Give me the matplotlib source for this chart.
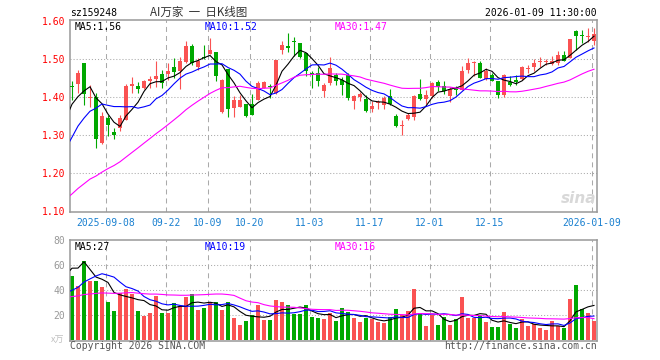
import numpy as np
import matplotlib
matplotlib.use('Agg')
import matplotlib.pyplot as plt
from matplotlib.patches import Rectangle

plt.rcParams['lines.scale_dashes'] = False

# ---------------- data ----------------
title_code = "sz159248"
title_name = "AI万家  一  日K线图"
timestamp = "2026-01-09 11:30:00"

tick_idx = [6, 16, 23, 30, 40, 50, 60, 70, 87]
tick_labels = ['2025-09-08', '09-22', '10-09', '10-20', '11-03', '11-17',
               '12-01', '12-15', '2026-01-09']

opens = [1.430, 1.435, 1.490, 1.399, 1.400, 1.281, 1.346, 1.309, 1.318, 1.341,
         1.431, 1.431, 1.425, 1.442, 1.448, 1.461, 1.461, 1.479, 1.468, 1.493,
         1.536, 1.479, 1.506, 1.515, 1.518, 1.361, 1.475, 1.372, 1.374, 1.382,
         1.382, 1.394, 1.425, 1.430, 1.411, 1.525, 1.534, 1.547, 1.543, 1.517,
         1.465, 1.464, 1.417, 1.438, 1.458, 1.446, 1.458, 1.389, 1.400, 1.396,
         1.368, 1.384, 1.379, 1.403, 1.352, 1.325, 1.344, 1.347, 1.409, 1.396,
         1.403, 1.440, 1.429, 1.404, 1.424, 1.420, 1.473, 1.489, 1.490, 1.448,
         1.458, 1.442, 1.405, 1.440, 1.446, 1.449, 1.474, 1.479, 1.494, 1.492,
         1.488, 1.490, 1.511, 1.504, 1.574, 1.564, 1.559, 1.548]
highs = [1.442, 1.473, 1.490, 1.433, 1.411, 1.361, 1.354, 1.319, 1.354, 1.436,
         1.453, 1.439, 1.446, 1.455, 1.495, 1.473, 1.490, 1.503, 1.505, 1.549,
         1.540, 1.503, 1.537, 1.556, 1.518, 1.448, 1.475, 1.403, 1.405, 1.382,
         1.409, 1.444, 1.444, 1.434, 1.499, 1.547, 1.568, 1.558, 1.543, 1.517,
         1.468, 1.479, 1.437, 1.505, 1.464, 1.454, 1.464, 1.407, 1.414, 1.407,
         1.389, 1.393, 1.403, 1.423, 1.355, 1.341, 1.358, 1.405, 1.448, 1.418,
         1.440, 1.446, 1.442, 1.426, 1.429, 1.482, 1.503, 1.496, 1.496, 1.478,
         1.464, 1.442, 1.461, 1.455, 1.459, 1.482, 1.486, 1.501, 1.505, 1.501,
         1.508, 1.521, 1.521, 1.554, 1.576, 1.578, 1.582, 1.582]
lows = [1.394, 1.411, 1.379, 1.374, 1.267, 1.277, 1.297, 1.291, 1.311, 1.341,
        1.411, 1.411, 1.423, 1.424, 1.426, 1.425, 1.446, 1.451, 1.423, 1.490,
        1.486, 1.473, 1.502, 1.515, 1.442, 1.360, 1.347, 1.347, 1.374, 1.347,
        1.354, 1.394, 1.425, 1.399, 1.409, 1.514, 1.518, 1.508, 1.503, 1.455,
        1.424, 1.429, 1.400, 1.433, 1.433, 1.405, 1.394, 1.368, 1.389, 1.361,
        1.361, 1.370, 1.370, 1.381, 1.321, 1.300, 1.341, 1.341, 1.394, 1.382,
        1.397, 1.417, 1.409, 1.387, 1.405, 1.420, 1.465, 1.455, 1.451, 1.446,
        1.442, 1.398, 1.402, 1.429, 1.433, 1.446, 1.465, 1.470, 1.479, 1.486,
        1.486, 1.486, 1.495, 1.504, 1.525, 1.543, 1.545, 1.538]
closes = [1.428, 1.464, 1.409, 1.401, 1.291, 1.350, 1.328, 1.302, 1.346, 1.429,
          1.436, 1.422, 1.444, 1.448, 1.455, 1.438, 1.470, 1.467, 1.495, 1.536,
          1.490, 1.496, 1.504, 1.525, 1.455, 1.446, 1.370, 1.394, 1.394, 1.350,
          1.354, 1.438, 1.440, 1.428, 1.499, 1.538, 1.531, 1.545, 1.505, 1.468,
          1.460, 1.444, 1.433, 1.477, 1.444, 1.432, 1.398, 1.403, 1.409, 1.365,
          1.378, 1.386, 1.398, 1.383, 1.324, 1.327, 1.354, 1.403, 1.396, 1.405,
          1.438, 1.426, 1.416, 1.422, 1.420, 1.468, 1.490, 1.491, 1.451, 1.468,
          1.442, 1.407, 1.458, 1.433, 1.439, 1.479, 1.476, 1.490, 1.496, 1.494,
          1.496, 1.512, 1.496, 1.554, 1.561, 1.562, 1.561, 1.566]
volumes = [51.4, 43.4, 63.4, 47.4, 47.4, 42.6, 30.6, 23.4, 37.8, 41.0,
           37.0, 23.4, 19.7, 21.8, 35.4, 21.8, 21.8, 29.6, 27.4, 34.6,
           37.0, 24.2, 25.8, 30.6, 30.6, 24.2, 30.6, 17.8, 12.2, 15.4,
           20.2, 28.2, 16.2, 16.2, 32.2, 30.6, 28.2, 21.0, 21.0, 28.2,
           18.6, 17.8, 17.0, 21.8, 15.4, 25.8, 22.6, 17.8, 14.6, 17.8,
           17.0, 14.6, 13.8, 18.6, 25.0, 20.2, 23.4, 41.0, 21.8, 11.4,
           20.2, 12.2, 18.6, 12.2, 17.0, 34.6, 17.8, 17.8, 19.4, 14.6,
           10.6, 10.6, 22.6, 13.0, 9.8, 17.0, 11.4, 13.0, 9.8, 8.2,
           15.4, 11.4, 9.8, 33.0, 44.2, 25.0, 21.8, 15.4]

# closes / volumes of the 30 sessions before the visible window (for the MAs)
pre_closes = [1.03, 1.03, 1.04, 1.03, 1.05, 1.04, 1.05, 1.06, 1.05, 1.06,
              1.07, 1.06, 1.07, 1.08, 1.08, 1.09, 1.10, 1.09, 1.11, 1.12,
              1.14, 1.17, 1.20, 1.22, 1.21, 1.24, 1.364, 1.334, 1.346, 1.437]
pre_volumes = [32, 28, 30, 35, 33, 31, 36, 29, 34, 32,
               30, 38, 33, 31, 35, 30, 34, 32, 33, 35,
               31, 20, 21, 22, 24, 24.6, 43, 38, 78, 78]

ma_price_labels = ["1.56", "1.52", "1.47"]
ma_vol_labels = ["27", "19", "16"]

# ---------------- helpers ----------------
W, H = 660, 360
RED = '#fa5252'
GREEN = '#00a800'
GRID = '#aaaaaa'
FRAME = '#999999'
MONO = 'DejaVu Sans Mono'


def ma(pre, vals, n):
    full = np.array(list(pre) + list(vals), dtype=float)
    npre = len(pre)
    xs, ys = [], []
    for j in range(npre - 1, len(full)):
        if j - n + 1 < 0:
            continue
        xs.append(j - npre)
        ys.append(full[j - n + 1:j + 1].mean())
    return np.array(xs), np.array(ys)


def axes_rect(left, top, right, bottom):
    return [left / W, 1 - bottom / H, (right - left) / W, (bottom - top) / H]


fig = plt.figure(figsize=(W / 100, H / 100), dpi=100)
fig.patch.set_facecolor('white')

n = len(closes)
xlim = (-1 / 3, 87.5)
ax = fig.add_axes(axes_rect(70, 20, 597, 211.5))
axv = fig.add_axes(axes_rect(70, 240.3, 597, 340.5))

p_top = 1.60 + 1.3 / 380
p_bot = 1.60 - (211.5 - 21.3) / 380
ax.set_ylim(p_bot, p_top)
ax.set_xlim(*xlim)
axv.set_xlim(*xlim)
axv.set_ylim(-0.16, 80.0)

for a in (ax, axv):
    for s in a.spines.values():
        s.set_color(FRAME)
        s.set_linewidth(1.1)
    a.set_facecolor('white')

# gridlines
grid_x = [t - 1 / 3 for t in tick_idx]
for a in (ax, axv):
    for gx in grid_x:
        a.axvline(gx, color=GRID, lw=0.75, dashes=(3.6, 2.9), zorder=0)
for lv in [1.20, 1.30, 1.40, 1.50]:
    ax.axhline(lv, color=GRID, lw=0.75, dashes=(0.75, 1.45), zorder=0)
for lv in [20, 40, 60]:
    axv.axhline(lv, color=GRID, lw=0.75, dashes=(0.75, 1.45), zorder=0)

# candles
bw = 0.8
min_h = 0.1 / 38
for i in range(n):
    o, h, l, c = opens[i], highs[i], lows[i], closes[i]
    col = RED if c >= o else GREEN
    ax.vlines(i, l, h, color=col, lw=0.8, zorder=2)
    bot = min(o, c)
    hh = max(abs(c - o), min_h)
    ax.add_patch(Rectangle((i - bw / 2, bot), bw, hh, facecolor=col,
                           edgecolor='none', zorder=3))
    axv.add_patch(Rectangle((i - bw / 2, 0), bw, volumes[i], facecolor=col,
                            edgecolor='none', zorder=2))

# moving averages
for per, col in [(5, 'black'), (10, '#0000ff'), (30, '#ff00ff')]:
    xs, ys = ma(pre_closes, closes, per)
    ax.plot(xs, ys, color=col, lw=0.8, zorder=4)
    xs, ys = ma(pre_volumes, volumes, per)
    axv.plot(xs, ys, color=col, lw=0.8, zorder=4)

# ticks
ax.set_yticks([1.10, 1.20, 1.30, 1.40, 1.50, 1.60])
ax.set_yticklabels(['1.10', '1.20', '1.30', '1.40', '1.50', '1.60'])
ax.tick_params(axis='y', length=0, pad=3.2, labelcolor='#ff0000', labelsize=7)
ax.set_xticks(grid_x)
ax.set_xticklabels(tick_labels)
ax.tick_params(axis='x', length=0, pad=4.5, labelcolor='#1a80d0', labelsize=7)
for t in ax.get_xticklabels() + ax.get_yticklabels():
    t.set_fontfamily(MONO)

axv.set_yticks([20, 40, 60, 80])
axv.set_yticklabels(['20', '40', '60', '80'])
axv.tick_params(axis='y', length=0, pad=3.2, labelcolor='#999999', labelsize=7)
axv.set_xticks([])
for t in axv.get_yticklabels():
    t.set_fontfamily(MONO)


def ftext(x, y, s, **kw):
    kw.setdefault('family', MONO)
    kw.setdefault('fontsize', 7)
    kw.setdefault('va', 'center')
    fig.text(x / W, 1 - y / H, s, **kw)


# header
ftext(70, 13, title_code, color='black')
ftext(150, 12.5, title_name, color='#333333', family=['Noto Sans CJK SC', 'DejaVu Sans'],
      fontsize=8.3)
ftext(597, 13, timestamp, color='black', ha='right')

# MA labels
ftext(74.5, 27, "MA5:" + ma_price_labels[0], color='black')
ftext(204.5, 27, "MA10:" + ma_price_labels[1], color='#0000ff')
ftext(334.5, 27, "MA30:" + ma_price_labels[2], color='#ff00ff')
ftext(74.5, 246.5, "MA5:" + ma_vol_labels[0], color='black')
ftext(204.5, 246.5, "MA10:" + ma_vol_labels[1], color='#0000ff')
ftext(334.5, 246.5, "MA30:" + ma_vol_labels[2], color='#ff00ff')

# footer
ftext(64, 340.5, "x万", color='#c0c0c0', ha='right',
      family=['Noto Sans CJK SC', 'DejaVu Sans'], fontsize=6.5)
ftext(70, 346, "Copyright 2026 SINA.COM", color='#555555')
ftext(597, 346, "http://finance.sina.com.cn", color='#555555', ha='right')

# watermark
ftext(596, 198, "sina", color='#d8d8d8', ha='right', family='DejaVu Sans',
      fontsize=11, fontweight='bold', style='italic')

fig.savefig('out.png', dpi=100, facecolor='white')
